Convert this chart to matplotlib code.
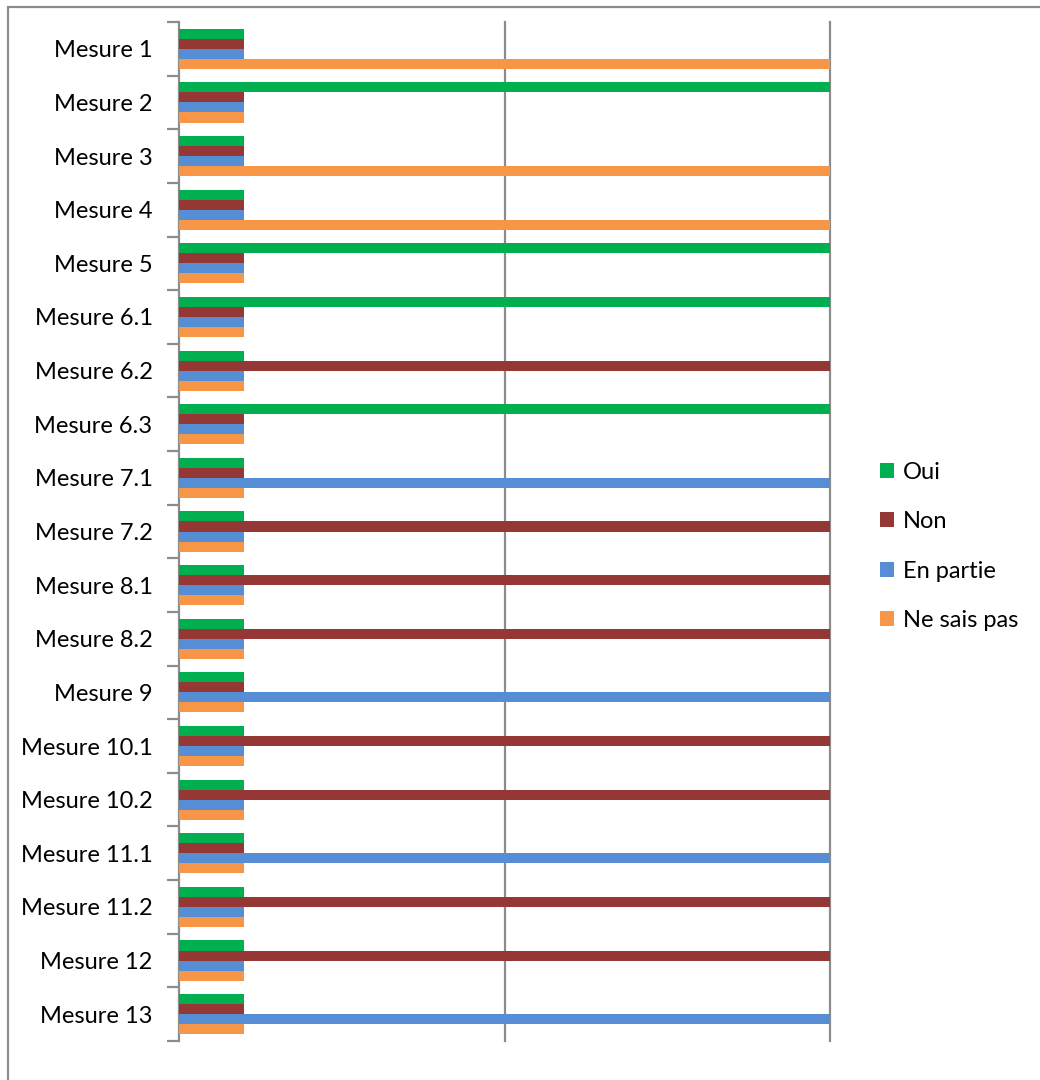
import matplotlib
matplotlib.use("Agg")
import matplotlib.pyplot as plt
from matplotlib.patches import Rectangle, Patch

plt.rcParams['font.family'] = ['Lato', 'DejaVu Sans']

mesures = ["Mesure 1", "Mesure 2", "Mesure 3", "Mesure 4", "Mesure 5",
           "Mesure 6.1", "Mesure 6.2", "Mesure 6.3", "Mesure 7.1", "Mesure 7.2",
           "Mesure 8.1", "Mesure 8.2", "Mesure 9", "Mesure 10.1", "Mesure 10.2",
           "Mesure 11.1", "Mesure 11.2", "Mesure 12", "Mesure 13"]
series = ["Oui", "Non", "En partie", "Ne sais pas"]
oui        = [1, 10, 1, 1, 10, 10, 1, 10, 1, 1, 1, 1, 1, 1, 1, 1, 1, 1, 1]
non        = [1, 1, 1, 1, 1, 1, 10, 1, 1, 10, 10, 10, 1, 10, 10, 1, 10, 10, 1]
en_partie  = [1, 1, 1, 1, 1, 1, 1, 1, 10, 1, 1, 1, 10, 1, 1, 10, 1, 1, 10]
ne_sais    = [10, 1, 10, 10, 1, 1, 1, 1, 1, 1, 1, 1, 1, 1, 1, 1, 1, 1, 1]
colors = ["#00B050", "#953735", "#558ED5", "#F79646"]

fig = plt.figure(figsize=(10.4, 10.8), dpi=100)
ax = fig.add_axes([179 / 1040, 39 / 1080, 651 / 1040, 1019 / 1080])

bar_h = 0.187
offsets = [-1.5 * bar_h, -0.5 * bar_h, 0.5 * bar_h, 1.5 * bar_h]
ys = list(range(len(mesures)))
for vals, off, col in zip([oui, non, en_partie, ne_sais], offsets, colors):
    ax.barh([y + off for y in ys], vals, height=bar_h, color=col, zorder=3)

ax.set_xlim(0, 10)
ax.set_ylim(len(mesures) - 0.5, -0.5)
for x in (5, 10):
    ax.axvline(x, color="#8C8C8C", lw=1.6, zorder=1, clip_on=False)

for s in ("top", "right", "bottom"):
    ax.spines[s].set_visible(False)
ax.spines["left"].set_color("#8C8C8C")
ax.spines["left"].set_linewidth(1.6)
ax.set_xticks([])

ax.set_yticks(ys)
ax.set_yticklabels(mesures, fontsize=17)
ax.tick_params(axis="y", which="major", length=0, pad=19)
ax.set_yticks([y - 0.5 for y in ys] + [len(ys) - 0.5], minor=True)
ax.tick_params(axis="y", which="minor", length=9, width=1.6, color="#8C8C8C")

handles = [Patch(facecolor=c, edgecolor="none") for c in colors]
fig.legend(handles, series, loc="center left", bbox_to_anchor=(859 / 1040, 0.494),
           frameon=False, fontsize=17, handlelength=0.6, handleheight=0.6,
           handletextpad=0.35, labelspacing=1.2)

fig.patches.append(Rectangle((8 / 1040, -0.05), 1.2, 1.05 - 7 / 1080,
                             transform=fig.transFigure, fill=False,
                             edgecolor="#8C8C8C", lw=1.6))

fig.savefig("out.png", dpi=100)
